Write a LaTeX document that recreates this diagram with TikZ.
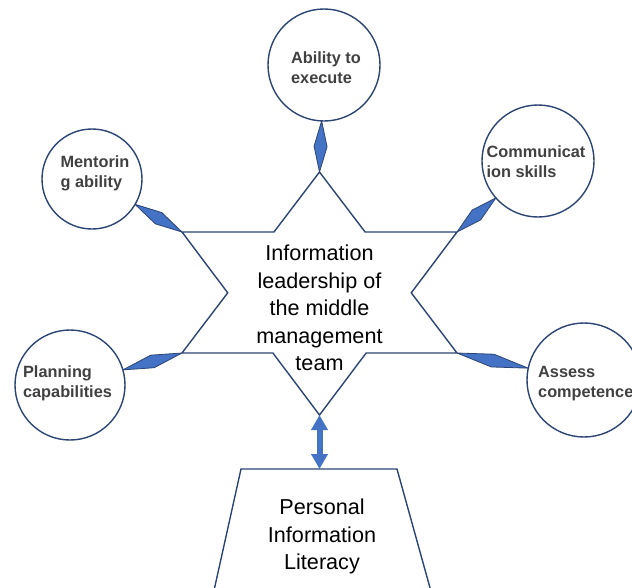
\documentclass[tikz,border=0pt]{standalone}
\usepackage{fontspec}
\setmainfont{Liberation Sans}
\usetikzlibrary{calc,arrows.meta}
\definecolor{navy}{HTML}{2B4473}
\definecolor{kblue}{HTML}{4472C4}
\definecolor{tgray}{HTML}{404040}
\newcommand\kiteconn[3]{%
  \draw[kite] ($(#1)!#2!(#3)$) -- ($(#1)!#2!(#3)!0.5!(#3)!6.5pt!90:(#3)$) -- (#3)
    -- ($(#1)!#2!(#3)!0.5!(#3)!6.5pt!-90:(#3)$) -- cycle;}
\begin{document}
\begin{tikzpicture}[x=1pt,y=-1pt,
  circ/.style={circle,draw=navy,line width=1.4pt,minimum size=#1,inner sep=0pt},
  ctext/.style={font=\fontsize{16.3}{20}\selectfont\bfseries, text=tgray, align=left, inner sep=0pt},
  btext/.style={font=\fontsize{21.6}{27.5}\selectfont, text=black, align=center, inner sep=0pt},
  outl/.style={draw=navy, line width=1.4pt, line join=miter},
  kite/.style={fill=kblue, draw=navy, line width=0.8pt, line join=round}]
\useasboundingbox (0,0) rectangle (632,587);

% circles
\node[circ=112pt] (abil) at (324,65) {};
\node[ctext] (abilt) at (326,68) {Ability to\\execute};
\node[circ=100pt] (ment) at (92,179) {};
\node[ctext] (mentt) at (95,173) {Mentorin\\g ability};
\node[circ=112pt] (comm) at (538,161) {};
\node[ctext] (commt) at (536,162) {Communicat\\ion skills};
\node[circ=110pt] (plan) at (70,385) {};
\node[ctext] (plant) at (67.5,383) {Planning\\capabilities};
\node[circ=114pt] (asse) at (584,380) {};
\node[ctext, anchor=west] (asset) at (538,384) {Assess\\competence};

% star points
\coordinate (T) at (319.5,172);
\coordinate (B) at (319.5,415);
\coordinate (UL) at (182,232);
\coordinate (UR) at (457,232);
\coordinate (LL) at (182,353);
\coordinate (LR) at (457,353);
\coordinate (ITL) at (intersection of T--LL and UL--UR);
\coordinate (ITR) at (intersection of T--LR and UL--UR);
\coordinate (IL) at (intersection of T--LL and UL--B);
\coordinate (IR) at (intersection of T--LR and UR--B);
\coordinate (IBL) at (intersection of LL--LR and UL--B);
\coordinate (IBR) at (intersection of LL--LR and UR--B);
\draw[outl] (T) -- (ITL) -- (UL) -- (IL) -- (LL) -- (IBL) -- (B) -- (IBR) -- (LR) -- (IR) -- (UR) -- (ITR) -- cycle;
\node[btext] (info) at (319.5,308) {Information\\leadership of\\the middle\\management\\team};

% kite connectors
\kiteconn{abil}{56pt}{T}
\kiteconn{ment}{50pt}{UL}
\kiteconn{comm}{56pt}{UR}
\kiteconn{plan}{55pt}{LL}
\kiteconn{asse}{57pt}{LR}

% trapezoid
\coordinate (TT) at (319.5,469);
\draw[outl] (213,595) -- (241,469) -- (397,469) -- (432,595);
\node[btext] (pil) at (322,536.5) {Personal\\Information\\Literacy};

% double arrow
\draw[kblue, line width=6pt, {Triangle[width=16pt,length=15pt]}-{Triangle[width=16pt,length=15pt]}] (B) -- (TT);
\end{tikzpicture}
\end{document}
